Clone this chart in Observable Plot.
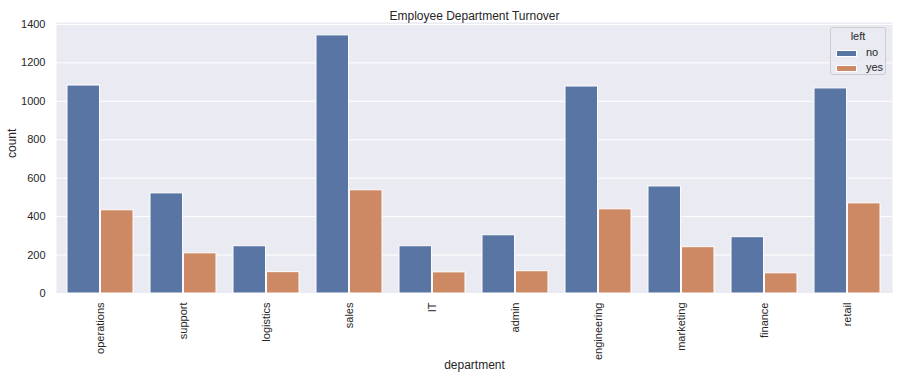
<!DOCTYPE html>
<html><head><meta charset="utf-8">
<script src="https://cdn.jsdelivr.net/npm/d3@7"></script>
<script src="https://cdn.jsdelivr.net/npm/@observablehq/plot@0.6"></script>
<style>
body{margin:0;background:#fff;font-family:"Liberation Sans",Arial,sans-serif;color:#262626}
#wrap{position:relative;width:899px;height:381px}
#legend{position:absolute;left:830px;top:27px;width:56px;height:48px;border:1px solid #cccccc;border-radius:3px;background:rgba(234,234,242,0.8);box-sizing:border-box;font-size:11px}
#legend .title{position:absolute;left:0;width:100%;top:2px;text-align:center;font-size:11px}
#legend .item{position:absolute;left:5px;height:14px;line-height:14px;white-space:nowrap}
#legend .sw{display:inline-block;width:21px;height:7px;vertical-align:middle;margin-right:9px;border:0.5px solid #fff;box-sizing:border-box}
</style></head><body><div id="wrap"><div id="legend"></div></div>
<script>
const departments = ["operations","support","logistics","sales","IT","admin","engineering","marketing","finance","retail"];
const noCounts  = [1082, 521, 246, 1343, 246, 303, 1077, 557, 293, 1067];
const yesCounts = [433, 209, 111, 537, 110, 116, 438, 241, 105, 469];
const leftLabels = ["no", "yes"];
const colors = ["#5975a4", "#cc8963"];
const yTicks = [0, 200, 400, 600, 800, 1000, 1200, 1400];

const data = departments.flatMap((d, i) => [
  {department: d, left: "no", count: noCounts[i]},
  {department: d, left: "yes", count: yesCounts[i]}
]);

const W = 899, H = 381, ML = 56, MR = 7, MT = 22, MB = 88;
const half = (W - ML - MR) / departments.length * 0.8 / 2;

const chart = Plot.plot({
  width: W, height: H,
  marginLeft: ML, marginRight: MR, marginTop: MT, marginBottom: MB,
  style: {fontFamily: '"Liberation Sans", Arial, sans-serif', fontSize: "11px", color: "#262626", background: "transparent", overflow: "visible"},
  x: {domain: departments, paddingInner: 0.2, paddingOuter: 0.1, label: null},
  y: {domain: [0, 1410], label: null},
  color: {domain: leftLabels, range: colors},
  marks: [
    Plot.frame({fill: "#eaeaf2", stroke: null}),
    Plot.gridY(yTicks, {stroke: "white", strokeOpacity: 1, strokeWidth: 1}),
    Plot.axisY(yTicks, {tickSize: 0, tickPadding: 11, label: null, fontSize: 11, fill: "#262626", tickFormat: d => String(d)}),
    Plot.axisX({tickSize: 0, tickRotate: -90, tickPadding: 9, label: null, fontSize: 11, fill: "#262626"}),
    Plot.barY(data.filter(d => d.left === "no"), {x: "department", y: "count", fill: "left", stroke: "white", strokeWidth: 1, insetRight: half}),
    Plot.barY(data.filter(d => d.left === "yes"), {x: "department", y: "count", fill: "left", stroke: "white", strokeWidth: 1, insetLeft: half}),
    Plot.text(["Employee Department Turnover"], {frameAnchor: "top", dy: -11, fontSize: 12, fill: "#262626"}),
    Plot.text(["department"], {frameAnchor: "bottom", dy: 75, fontSize: 12, fill: "#262626"}),
    Plot.text(["count"], {frameAnchor: "left", dx: -44, rotate: -90, fontSize: 12, fill: "#262626"})
  ]
});
const wrap = document.getElementById("wrap");
wrap.insertBefore(chart, wrap.firstChild);

const legend = document.getElementById("legend");
legend.innerHTML = '<div class="title">left</div>' + leftLabels.map((l, i) =>
  `<div class="item" style="top:${17 + i * 15}px"><span class="sw" style="background:${colors[i]}"></span>${l}</div>`).join("");
</script>
</body></html>
